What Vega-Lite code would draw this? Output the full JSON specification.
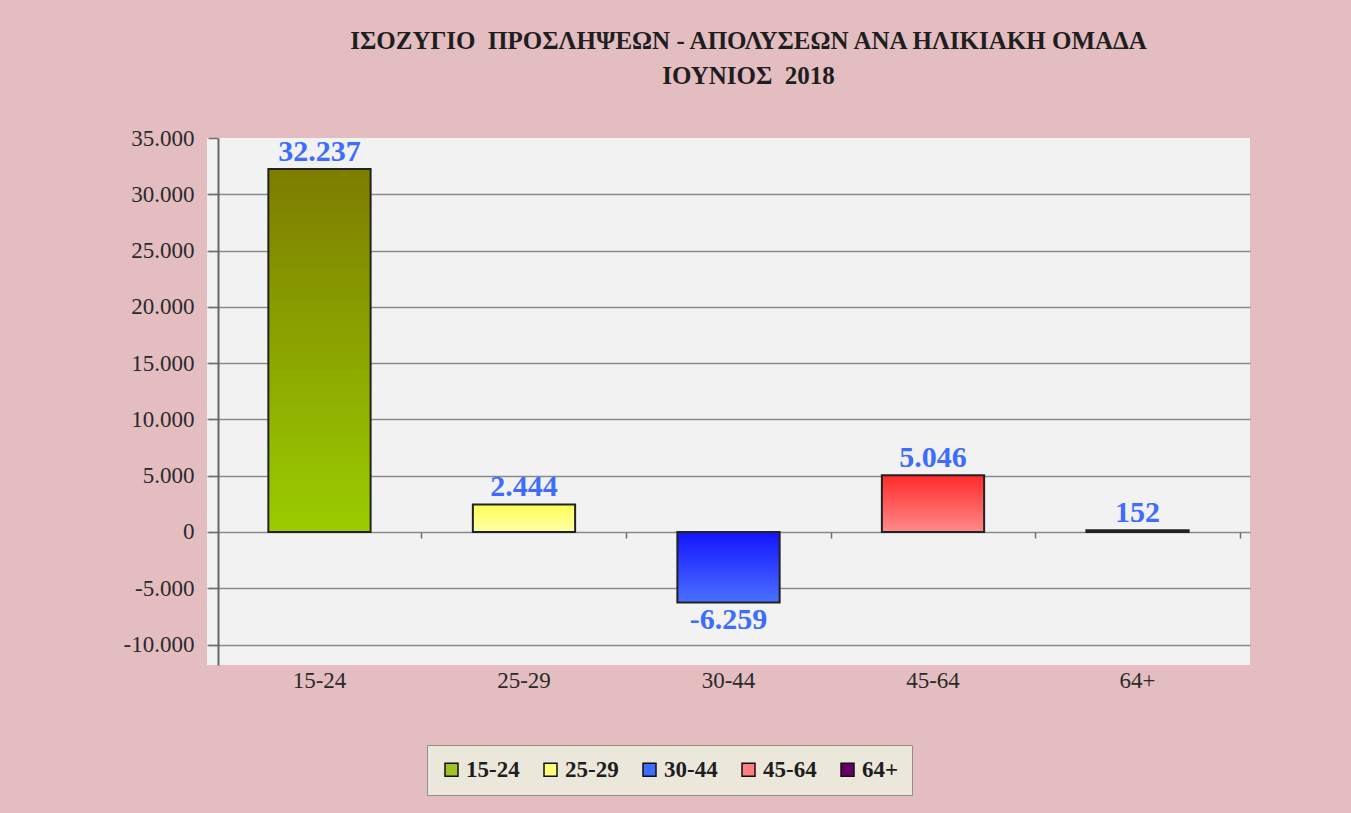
{
  "$schema": "https://vega.github.io/schema/vega-lite/v6.json",
  "autosize": {"type": "none"},
  "width": 1043,
  "height": 527,
  "padding": {"left": 207, "top": 138, "right": 101, "bottom": 148},
  "background": "#e4bdc1",
  "config": {
    "locale": {"number": {"decimal": ",", "thousands": ".", "grouping": [3], "currency": ["", " €"], "minus": "-"}},
    "view": {"fill": "#f2f2f2", "stroke": null}
  },
  "title": {
    "text": ["ΙΣΟΖΥΓΙΟ\u00a0\u00a0ΠΡΟΣΛΗΨΕΩΝ - ΑΠΟΛΥΣΕΩΝ ΑΝΑ ΗΛΙΚΙΑΚΗ ΟΜΑΔΑ", "ΙΟΥΝΙΟΣ\u00a0\u00a02018"],
    "font": "Liberation Serif",
    "fontSize": 25,
    "fontWeight": "bold",
    "color": "#1e1e1e",
    "anchor": "middle",
    "dx": 20,
    "lineHeight": 35,
    "offset": 38
  },
  "data": {
    "values": [
      {"g": "15-24", "v": 32237},
      {"g": "25-29", "v": 2444},
      {"g": "30-44", "v": -6259},
      {"g": "45-64", "v": 5046},
      {"g": "64+", "v": 152}
    ]
  },
  "resolve": {"axis": {"x": "independent"}},
  "layer": [
    {
      "mark": {"type": "bar", "stroke": "#222222", "strokeWidth": 2},
      "encoding": {
        "x": {
          "field": "g", "type": "nominal", "sort": null,
          "scale": {"paddingInner": 0.5, "paddingOuter": 0.3},
          "axis": {
            "title": null, "orient": "bottom", "ticks": false, "domain": false, "grid": false,
            "labelAngle": 0, "labelFont": "Liberation Serif", "labelFontSize": 23,
            "labelColor": "#2a2a2a", "labelPadding": 4
          }
        },
        "y": {
          "field": "v", "type": "quantitative",
          "scale": {"domain": [-11815, 35000], "nice": false, "zero": false},
          "axis": {
            "title": null, "offset": -11,
            "values": [-10000, -5000, 0, 5000, 10000, 15000, 20000, 25000, 30000, 35000],
            "format": ",d",
            "labelFont": "Liberation Serif", "labelFontSize": 23, "labelColor": "#2a2a2a",
            "labelPadding": 14,
            "tickSize": 10, "tickColor": "#707070", "tickWidth": 1.5,
            "domainColor": "#666666", "domainWidth": 2,
            "grid": true, "gridColor": "#8a8a8a", "gridWidth": 1.5,
            "gridOpacity": {"condition": {"test": "datum.value === 35000", "value": 0}, "value": 1}
          }
        },
        "fill": {
          "field": "g", "type": "nominal", "sort": null,
          "scale": {"domain": ["15-24", "25-29", "30-44", "45-64", "64+"],
                    "range": ["#9fc226", "#ffff7a", "#3f6dff", "#ff7f7f", "#660066"]},
          "legend": {
            "title": null, "orient": "none", "legendX": 220, "legendY": 607,
            "direction": "horizontal", "columns": 5,
            "symbolType": "square", "symbolSize": 169,
            "symbolStrokeColor": "#111111", "symbolStrokeWidth": 1.5,
            "labelFont": "Liberation Serif", "labelFontSize": 23, "labelFontWeight": "bold",
            "labelColor": "#1e1e1e", "labelOffset": 3, "columnPadding": 19,
            "padding": 13, "fillColor": "#ebe7da", "strokeColor": "#8f8f8f"
          },
          "condition": [
            {"test": "datum.g === '15-24'", "value": {"gradient": "linear", "x1": 0, "y1": 0, "x2": 0, "y2": 1,
              "stops": [{"offset": 0, "color": "#7d7d00"}, {"offset": 1, "color": "#9acd00"}]}},
            {"test": "datum.g === '25-29'", "value": {"gradient": "linear", "x1": 0, "y1": 0, "x2": 0, "y2": 1,
              "stops": [{"offset": 0, "color": "#ffff55"}, {"offset": 1, "color": "#ffffa8"}]}},
            {"test": "datum.g === '30-44'", "value": {"gradient": "linear", "x1": 0, "y1": 0, "x2": 0, "y2": 1,
              "stops": [{"offset": 0, "color": "#1414ff"}, {"offset": 1, "color": "#4a70ff"}]}},
            {"test": "datum.g === '45-64'", "value": {"gradient": "linear", "x1": 0, "y1": 0, "x2": 0, "y2": 1,
              "stops": [{"offset": 0, "color": "#ff2a2a"}, {"offset": 1, "color": "#ff8a8a"}]}}
          ]
        }
      }
    },
    {
      "transform": [{"filter": "datum.v >= 0"}],
      "mark": {"type": "text", "baseline": "alphabetic", "dy": -8, "font": "Liberation Serif",
               "fontSize": 30, "fontWeight": "bold", "color": "#3d6cff"},
      "encoding": {
        "x": {
          "field": "g", "type": "nominal", "sort": null,
          "axis": {
            "title": null, "orient": "bottom", "offset": -133, "labels": false, "domain": false,
            "grid": false, "ticks": true, "tickOffset": 102, "tickSize": 6,
            "tickColor": "#707070", "tickWidth": 1.5
          }
        },
        "y": {"field": "v", "type": "quantitative"},
        "text": {"field": "v", "type": "quantitative", "format": ",d"}
      }
    },
    {
      "transform": [{"filter": "datum.v < 0"}],
      "mark": {"type": "text", "baseline": "top", "dy": 3, "font": "Liberation Serif",
               "fontSize": 30, "fontWeight": "bold", "color": "#3d6cff"},
      "encoding": {
        "x": {"field": "g", "type": "nominal", "sort": null, "axis": null},
        "y": {"field": "v", "type": "quantitative"},
        "text": {"field": "v", "type": "quantitative", "format": ",d"}
      }
    }
  ]
}
